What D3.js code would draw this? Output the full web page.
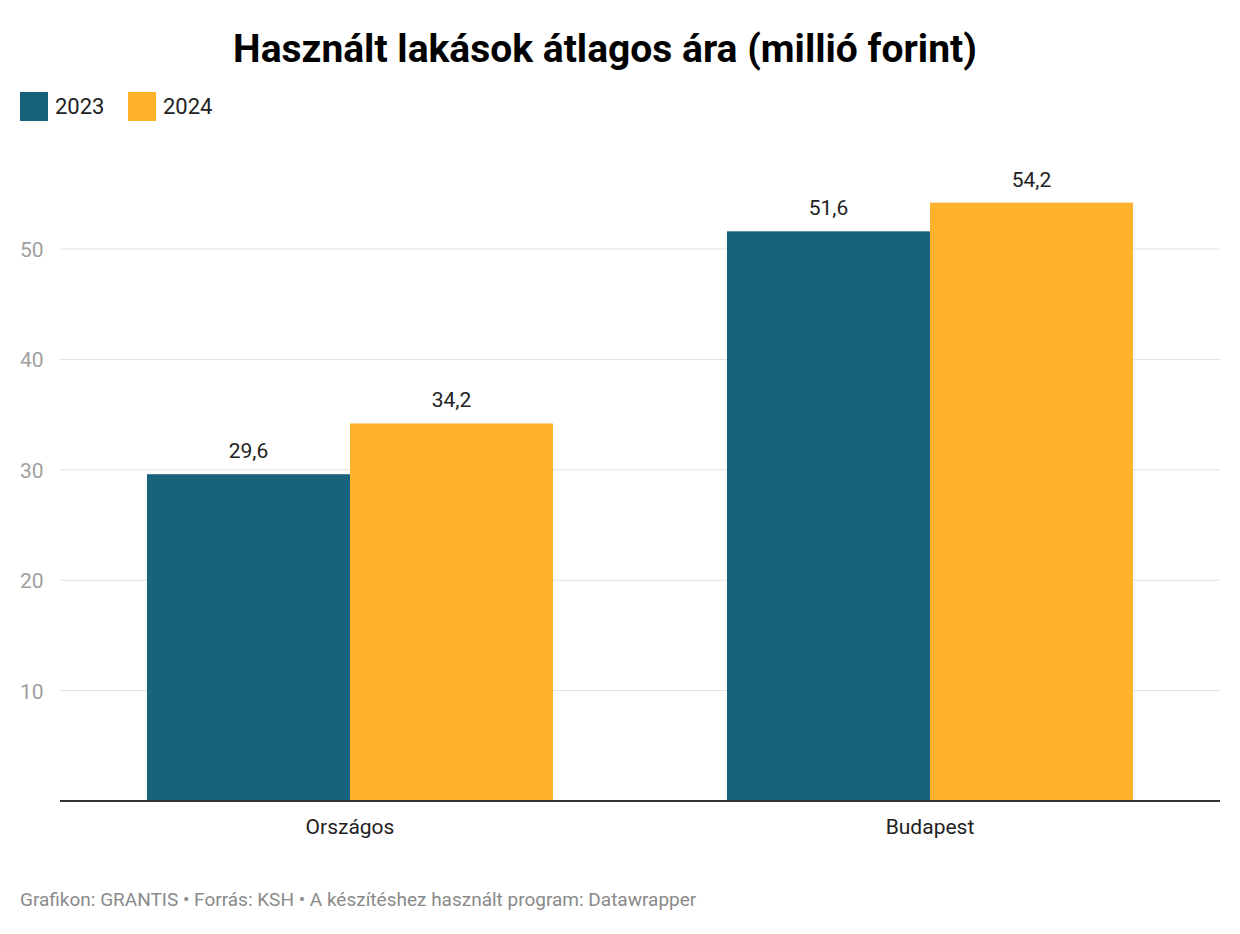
<!DOCTYPE html>
<html><head><meta charset="utf-8">
<script src="https://cdn.jsdelivr.net/npm/d3@7"></script>
<style>body{margin:0;background:#fff;font-family:Roboto,sans-serif}</style>
</head><body><svg id="c" width="1240" height="934"></svg>
<script>
const categories = ["Országos", "Budapest"];
const seriesNames = ["2023", "2024"];
const values2023 = [29.6, 51.6];
const values2024 = [34.2, 54.2];
const yTicks = [10, 20, 30, 40, 50];
const colors = ["#18627b", "#feb12c"];

const svg = d3.select("#c");
const x = d3.scaleBand().domain(categories).range([60, 1220]).paddingInner(0.3).paddingOuter(0.15);
const xs = d3.scaleBand().domain(seriesNames).range([0, x.bandwidth()]);
const y = d3.scaleLinear().domain([0, 50]).range([801, 249]);

svg.append("text").attr("x", 605).attr("y", 62).attr("text-anchor", "middle")
  .attr("font-size", 39).attr("font-weight", 700).attr("fill", "#000")
  .text("Használt lakások átlagos ára (millió forint)");

const lg = svg.append("g");
seriesNames.forEach((s, i) => {
  const ox = [20, 128][i];
  lg.append("rect").attr("x", ox).attr("y", 92).attr("width", 28).attr("height", 29).attr("fill", colors[i]);
  lg.append("text").attr("x", ox + 35).attr("y", 114).attr("font-size", 22).attr("fill", "#222").text(s);
});

yTicks.forEach(t => {
  svg.append("line").attr("x1", 60).attr("x2", 1220).attr("y1", y(t)).attr("y2", y(t)).attr("stroke", "#e0e0e0");
  svg.append("text").attr("x", 20).attr("y", y(t) + 8).attr("font-size", 21).attr("fill", "#a0a0a0").text(t);
});

const data = categories.map((c, i) => ({c, v: [values2023[i], values2024[i]]}));
data.forEach(d => {
  d.v.forEach((v, j) => {
    const bx = x(d.c) + xs(seriesNames[j]);
    svg.append("rect").attr("x", bx).attr("y", y(v)).attr("width", xs.bandwidth()).attr("height", y(0) - y(v)).attr("fill", colors[j]);
    svg.append("text").attr("x", bx + xs.bandwidth() / 2).attr("y", y(v) - 16).attr("text-anchor", "middle")
      .attr("font-size", 21).attr("fill", "#222").text(String(v).replace(".", ","));
  });
  svg.append("text").attr("x", x(d.c) + x.bandwidth() / 2).attr("y", 834).attr("text-anchor", "middle")
    .attr("font-size", 21).attr("fill", "#222").text(d.c);
});
svg.append("line").attr("x1", 60).attr("x2", 1220).attr("y1", 801).attr("y2", 801).attr("stroke", "#333").attr("stroke-width", 2);

svg.append("text").attr("x", 20).attr("y", 906).attr("font-size", 19).attr("fill", "#8a8a8a")
  .text("Grafikon: GRANTIS • Forrás: KSH • A készítéshez használt program: Datawrapper");
</script></body></html>
